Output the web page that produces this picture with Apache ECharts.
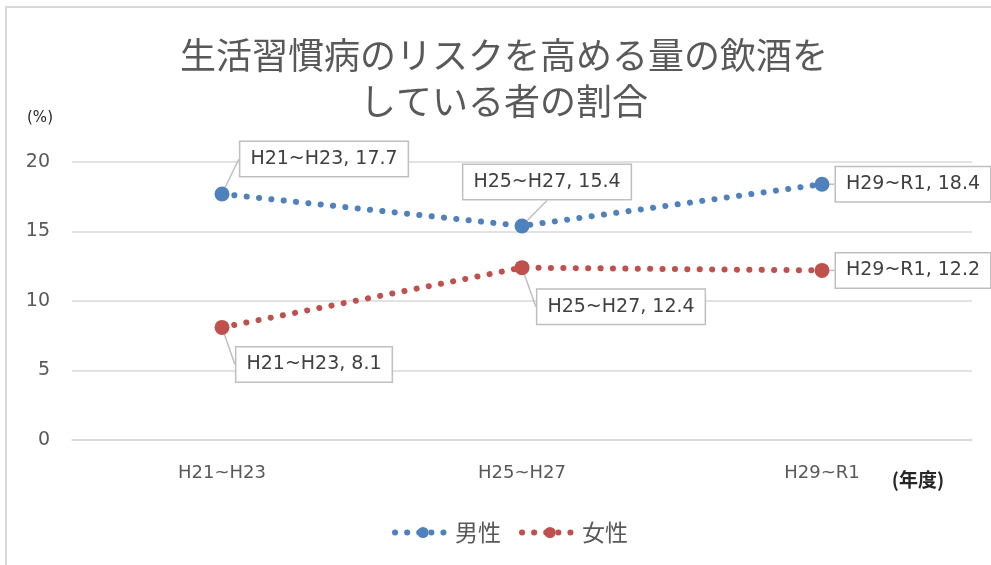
<!DOCTYPE html>
<html><head><meta charset="utf-8">
<script src="https://cdn.jsdelivr.net/npm/echarts@6/dist/echarts.min.js"></script>
<style>html,body{margin:0;padding:0;background:#fff}#c{width:991px;height:565px}</style>
</head><body><div id="c"></div>
<script>
const categories = ['H21~H23', 'H25~H27', 'H29~R1'];
const maleValues = [17.7, 15.4, 18.4];
const femaleValues = [8.1, 12.4, 12.2];
const seriesNames = ['男性', '女性'];
const titleLines = ['生活習慣病のリスクを高める量の飲酒を', 'している者の割合'];
const yUnit = '(%)';
const xUnit = '(年度)';

// label box offsets (layout only), relative to each point
const maleLabelOffsets = [[102, -35], [25, -44], [91, 0]];
const femaleLabelOffsets = [[92, 37], [99, 39], [91, 0]];

const chart = echarts.init(document.getElementById('c'), null, {renderer: 'canvas'});

function makeSeries(name, values, color, offs) {
  return {
    name: name,
    type: 'line',
    data: values,
    symbol: 'circle',
    symbolSize: 15,
    itemStyle: {color: color},
    lineStyle: {color: color, width: 6, type: [0.1, 12.3], cap: 'round'},
    label: {
      show: true,
      formatter: '{b}, {c}',
      fontFamily: 'DejaVu Sans',
      fontSize: 19,
      color: '#404040',
      backgroundColor: '#fff',
      borderColor: '#bfbfbf',
      borderWidth: 1.5,
      padding: [8, 10, 7, 10]
    },
    labelLine: {show: true, lineStyle: {color: '#bfbfbf', width: 1.5}},
    labelLayout: function (p) {
      const o = offs[p.dataIndex];
      return {
        x: p.rect.x + p.rect.width / 2 + o[0],
        y: p.rect.y + p.rect.height / 2 + o[1],
        align: 'center',
        verticalAlign: 'middle'
      };
    },
    z: 3
  };
}

chart.setOption({
  animation: false,
  backgroundColor: '#fff',
  grid: {left: 72, right: 19, top: 162, bottom: 125},
  xAxis: {
    type: 'category',
    data: categories,
    boundaryGap: true,
    axisLine: {show: true, lineStyle: {color: '#d9d9d9', width: 1.5}},
    axisTick: {show: false},
    axisLabel: {margin: 24, fontFamily: 'DejaVu Sans', fontSize: 18, color: '#595959'}
  },
  yAxis: {
    type: 'value',
    min: 0, max: 20, interval: 5,
    axisLine: {show: false},
    axisTick: {show: false},
    splitLine: {lineStyle: {color: '#d9d9d9', width: 1.5}},
    axisLabel: {margin: 22, fontFamily: 'DejaVu Sans', fontSize: 19, color: '#595959'}
  },
  legend: {
    data: seriesNames,
    left: 387,
    top: 516,
    itemWidth: 56,
    itemHeight: 14,
    itemGap: 18,
    lineStyle: {width: 6, type: [0.1, 12], cap: 'round'},
    textStyle: {fontFamily: 'Noto Sans CJK JP', fontSize: 23, color: '#595959', padding: [0, 0, 0, -1]}
  },
  graphic: [
    {type: 'rect', shape: {x: 6, y: 7, width: 1100, height: 700}, style: {fill: 'none', stroke: '#d9d9d9', lineWidth: 2}, silent: true},
    {type: 'text', x: 504, y: 32, style: {text: titleLines.join('\n'), fontFamily: 'Noto Sans CJK JP', fontSize: 36, lineHeight: 46, fill: '#595959', align: 'center', verticalAlign: 'top'}},
    {type: 'text', x: 40, y: 118, style: {text: yUnit, fontFamily: 'DejaVu Sans', fontSize: 15, fill: '#262626', align: 'center', verticalAlign: 'middle'}},
    {type: 'text', x: 918, y: 480, style: {text: xUnit, fontFamily: 'Noto Sans CJK JP', fontSize: 19, fontWeight: 'bold', fill: '#262626', align: 'center', verticalAlign: 'middle'}}
  ],
  series: [
    makeSeries(seriesNames[0], maleValues, '#4f81bd', maleLabelOffsets),
    makeSeries(seriesNames[1], femaleValues, '#c0504d', femaleLabelOffsets)
  ]
});
</script></body></html>
